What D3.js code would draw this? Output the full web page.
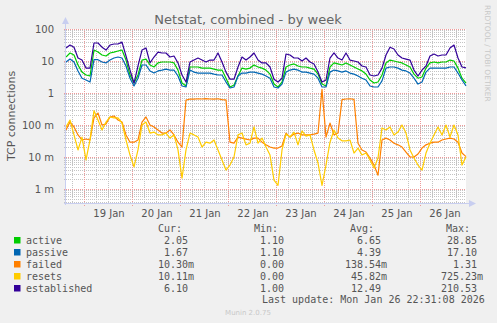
<!DOCTYPE html>
<html>
<head>
<meta charset="utf-8">
<script src="https://cdn.jsdelivr.net/npm/d3@7/dist/d3.min.js"></script>
<style>
  html, body { margin: 0; padding: 0; background: #F0F0F0; }
  svg { display: block; }
  text { font-family: "DejaVu Sans", sans-serif; }
  .mono { font-family: "DejaVu Sans Mono", monospace; white-space: pre; }
</style>
</head>
<body>
<svg id="chart" width="497" height="323"></svg>
<script>
// Netstat weekly graph: one sample every two hours.
const seriesNames  = ["active", "passive", "failed", "resets", "established"];
const seriesColors = ["#00CC00", "#0066B3", "#FF8000", "#FFCC00", "#330099"];

const active = [13.3, 17.8, 15.4, 7.5, 4.5, 3.65, 3.4, 22, 19, 15.4,
  14.3, 17.8, 19, 20.5, 22, 10.7, 3.65, 2.05, 3.65, 10.7,
  11.5, 7.5, 6.5, 8.7, 9.3, 9.3, 9.3, 8.7, 5.2, 2.05,
  1.66, 6.5, 6.5, 6.5, 6.0, 6.0, 6.0, 5.6, 5.2, 5.2,
  2.9, 1.54, 1.78, 3.4, 6.0, 5.6, 6.0, 7.5, 6.5, 6.0,
  5.2, 3.9, 1.9, 1.54, 2.2, 6.5, 7.5, 8.1, 7.0, 6.5,
  6.5, 6.0, 5.6, 3.9, 1.9, 1.66, 6.5, 8.7, 8.1, 7.5,
  8.7, 7.5, 6.5, 5.6, 4.9, 3.9, 2.55, 2.05, 2.2, 3.65,
  8.7, 10.7, 10, 9.3, 8.7, 7.5, 6.5, 3.9, 2.9, 3.16,
  6.0, 8.7, 9.3, 8.7, 9.3, 9.3, 10.7, 10, 6.0, 2.9,
  2.05];

const passive = [9.3, 11.5, 9.3, 4.9, 2.9, 2.55, 2.2, 11, 11, 9.3,
  8.7, 10.7, 12.4, 13.3, 12.4, 7.0, 2.9, 1.66, 2.9, 7.5,
  7.5, 4.9, 4.2, 4.9, 5.2, 5.6, 5.2, 5.2, 3.4, 1.66,
  1.54, 5.2, 4.5, 4.2, 4.2, 4.2, 4.2, 3.9, 3.65, 3.65,
  2.2, 1.43, 1.54, 3.4, 4.2, 4.2, 4.5, 4.5, 4.2, 3.9,
  3.4, 2.9, 1.54, 1.43, 1.9, 4.5, 5.2, 5.6, 5.2, 4.5,
  4.5, 4.2, 3.9, 2.9, 1.54, 1.54, 4.5, 5.2, 4.9, 4.5,
  4.9, 4.2, 3.9, 3.4, 2.9, 2.55, 1.66, 1.54, 1.54, 2.4,
  6.0, 6.5, 6.5, 6.0, 5.2, 4.9, 4.2, 2.9, 1.9, 2.2,
  4.5, 6.0, 6.0, 6.0, 6.0, 6.0, 6.5, 6.5, 4.2, 2.55,
  1.67];

const failed = [0.070, 0.124, 0.087, 0.049, 0.034, 0.0365, 0.034, 0.166, 0.237, 0.100,
  0.107, 0.178, 0.191, 0.143, 0.124, 0.049, 0.029, 0.029, 0.034, 0.124,
  0.178, 0.100, 0.087, 0.070, 0.056, 0.056, 0.070, 0.049, 0.029, 0.0205,
  0.60, 0.65, 0.64, 0.66, 0.65, 0.67, 0.65, 0.64, 0.66, 0.62,
  0.61, 0.029, 0.027, 0.042, 0.039, 0.036, 0.034, 0.039, 0.039, 0.029,
  0.024, 0.0205, 0.019, 0.019, 0.022, 0.056, 0.042, 0.052, 0.056, 0.049,
  0.049, 0.049, 0.052, 0.056, 1.31, 0.042, 0.115, 0.049, 0.056, 0.62,
  0.65, 0.66, 0.63, 0.027, 0.0166, 0.0143, 0.0093, 0.0056, 0.0027, 0.034,
  0.039, 0.034, 0.027, 0.024, 0.0205, 0.0143, 0.010, 0.010, 0.0124, 0.019,
  0.024, 0.027, 0.029, 0.029, 0.034, 0.0365, 0.039, 0.0365, 0.029, 0.0133,
  0.0103];

const resets = [0.087, 0.143, 0.049, 0.0166, 0.042, 0.0081, 0.034, 0.28, 0.143, 0.070,
  0.124, 0.178, 0.166, 0.166, 0.115, 0.034, 0.0115, 0.0049, 0.0166, 0.100,
  0.124, 0.056, 0.060, 0.049, 0.049, 0.056, 0.039, 0.049, 0.0166, 0.0022,
  0.0166, 0.056, 0.049, 0.042, 0.0205, 0.029, 0.027, 0.034, 0.0166, 0.0081,
  0.0039, 0.0056, 0.010, 0.049, 0.056, 0.024, 0.027, 0.087, 0.027, 0.039,
  0.0205, 0.0115, 0.0019, 0.0013, 0.0166, 0.052, 0.042, 0.060, 0.024, 0.065,
  0.045, 0.049, 0.0166, 0.0065, 0.0013, 0.0056, 0.029, 0.070, 0.039, 0.032,
  0.032, 0.034, 0.0133, 0.019, 0.0115, 0.0133, 0.0081, 0.0045, 0.0093, 0.081,
  0.070, 0.087, 0.049, 0.060, 0.100, 0.056, 0.0166, 0.0093, 0.0056, 0.0039,
  0.0133, 0.027, 0.049, 0.087, 0.049, 0.100, 0.042, 0.100, 0.049, 0.0056,
  0.0101];

const established = [25.5, 31.6, 27, 12.4, 10.7, 6.0, 6.0, 36.5, 36.5, 27,
  22, 31.6, 34, 34, 39, 14.3, 5.2, 2.05, 7.0, 22,
  25.5, 8.7, 13.3, 19, 17.8, 17.8, 13.3, 14.3, 8.7, 3.65,
  2.2, 9.3, 10.7, 12.4, 10.7, 9.3, 10.7, 10.7, 17.8, 9.3,
  4.5, 2.7, 2.7, 6.5, 13.3, 10.7, 13.3, 17.8, 10.7, 8.7,
  8.7, 6.5, 2.7, 2.2, 2.9, 16.5, 15.4, 12.4, 12.4, 10,
  12.4, 9.3, 8.1, 4.5, 2.2, 2.55, 12.4, 17.8, 12.4, 10.7,
  17.8, 10.7, 10, 9.3, 7, 6.5, 3.65, 3.4, 3.65, 6,
  15.4, 27, 23.7, 15.4, 12.4, 11.5, 10.7, 5.2, 3.4, 5.2,
  7, 14.3, 16.5, 14.3, 15.4, 15.4, 25.5, 31.6, 12.4, 6.5,
  6.1];

const yTickValues = [100, 10, 1, 0.1, 0.01, 0.001];
const yTickLabels = ["100", "10", "1", "100 m", "10 m", "1 m"];
const dayLabels = ["19 Jan", "20 Jan", "21 Jan", "22 Jan", "23 Jan", "24 Jan", "25 Jan", "26 Jan"];

const legendCur = ["2.05", "1.67", "10.30m", "10.11m", "6.10"];
const legendMin = ["1.10", "1.10", "0.00", "0.00", "1.00"];
const legendAvg = ["6.65", "4.39", "138.54m", "45.82m", "12.49"];
const legendMax = ["28.85", "17.10", "1.31", "725.23m", "210.53"];

const titleText = "Netstat, combined - by week";
const yAxisTitle = "TCP connections";
const lastUpdate = "Last update: Mon Jan 26 22:31:08 2026";
const footerText = "Munin 2.0.75";
const sideText = "RRDTOOL / TOBI OETIKER";

// ---- layout ----
const plot = { left: 66, right: 466, top: 29, bottom: 203 };
const HOUR = 3600 * 1000;
const t0 = new Date(2026, 0, 18, 15, 0, 0).getTime();
const step = 2 * HOUR;
const nPts = active.length;
const times = d3.range(nPts).map(i => new Date(t0 + i * step));
const tEnd = new Date(t0 + (nPts - 1) * step);

const x = d3.scaleTime().domain([new Date(t0), tEnd]).range([plot.left, plot.right]);
const y = d3.scaleLog().domain([Math.pow(10, 2 - (plot.bottom - plot.top) / 32), 100])
  .range([plot.bottom, plot.top]);

const svg = d3.select("#chart");
svg.append("rect").attr("width", 497).attr("height", 323).attr("fill", "#F0F0F0");
svg.append("rect")
  .attr("x", plot.left).attr("y", plot.top)
  .attr("width", plot.right - plot.left).attr("height", plot.bottom - plot.top)
  .attr("fill", "#FFFFFF");

// ---- grid ----
const grid = svg.append("g").attr("shape-rendering", "crispEdges");
const dom = y.domain();
const minorY = [];
for (let e = -4; e <= 1; e++) {
  for (let k = 2; k <= 9; k++) {
    const v = k * Math.pow(10, e);
    if (v >= dom[0] && v <= dom[1]) minorY.push(v);
  }
}
const minorColor = "#C4C4C4";
const majorColor = "#EE9A9A";
grid.selectAll("line.hminor").data(minorY).join("line")
  .attr("x1", plot.left - 2).attr("x2", plot.right)
  .attr("y1", d => Math.round(y(d)) + 0.5).attr("y2", d => Math.round(y(d)) + 0.5)
  .attr("stroke", minorColor).attr("stroke-dasharray", "1,1");

const sixHours = d3.timeHour.every(6).range(new Date(t0), tEnd)
  .filter(d => d.getHours() !== 0);
grid.selectAll("line.vminor").data(sixHours).join("line")
  .attr("x1", d => Math.round(x(d)) + 0.5).attr("x2", d => Math.round(x(d)) + 0.5)
  .attr("y1", plot.top).attr("y2", plot.bottom + 2)
  .attr("stroke", minorColor).attr("stroke-dasharray", "1,1");

grid.selectAll("line.hmajor").data(yTickValues).join("line")
  .attr("x1", plot.left - 2).attr("x2", plot.right)
  .attr("y1", d => Math.round(y(d)) + 0.5).attr("y2", d => Math.round(y(d)) + 0.5)
  .attr("stroke", majorColor).attr("stroke-dasharray", "1,1");

const days = d3.timeDay.range(new Date(t0), tEnd);
grid.selectAll("line.vmajor").data(days).join("line")
  .attr("x1", d => Math.round(x(d)) + 0.5).attr("x2", d => Math.round(x(d)) + 0.5)
  .attr("y1", plot.top).attr("y2", plot.bottom + 3)
  .attr("stroke", majorColor).attr("stroke-dasharray", "1,1");

// ---- series ----
svg.append("clipPath").attr("id", "clip").append("rect")
  .attr("x", plot.left).attr("y", plot.top)
  .attr("width", plot.right - plot.left + 1).attr("height", plot.bottom - plot.top);

const allSeries = [active, passive, failed, resets, established];
const line = d3.line()
  .x((d, i) => x(times[i]))
  .y(d => y(Math.max(d, dom[0])));

const lines = svg.append("g").attr("clip-path", "url(#clip)");
allSeries.forEach((s, k) => {
  lines.append("path").datum(s)
    .attr("d", line)
    .attr("fill", "none")
    .attr("stroke", seriesColors[k])
    .attr("stroke-width", 1.2)
    .attr("stroke-linejoin", "round");
});

// ---- axes ----
const axisColor = "#C8CEF0";
svg.append("line").attr("x1", plot.left - 0.5).attr("x2", plot.left - 0.5)
  .attr("y1", plot.bottom + 2).attr("y2", plot.top - 6)
  .attr("stroke", axisColor);
svg.append("line").attr("x1", plot.left - 2).attr("x2", plot.right + 4)
  .attr("y1", plot.bottom + 0.5).attr("y2", plot.bottom + 0.5)
  .attr("stroke", axisColor);
svg.append("path")
  .attr("d", `M${plot.left - 4},${plot.top - 5} L${plot.left - 0.5},${plot.top - 12} L${plot.left + 3},${plot.top - 5} Z`)
  .attr("fill", axisColor);
svg.append("path")
  .attr("d", `M${plot.right + 3},${plot.bottom - 3} L${plot.right + 10},${plot.bottom + 0.5} L${plot.right + 3},${plot.bottom + 4} Z`)
  .attr("fill", axisColor);

const textColor = "#555555";
svg.selectAll("text.ytick").data(yTickValues).join("text")
  .attr("x", plot.left - 12).attr("y", d => y(d) + 3.5)
  .attr("text-anchor", "end").attr("font-size", 10).attr("fill", textColor)
  .text((d, i) => yTickLabels[i]);

const noons = days.map(d => new Date(d.getTime() + 12 * HOUR));
svg.selectAll("text.xtick").data(noons).join("text")
  .attr("x", d => x(d) + 1).attr("y", 217)
  .attr("text-anchor", "middle").attr("font-size", 10).attr("fill", textColor)
  .text((d, i) => dayLabels[i]);

// ---- titles ----
svg.append("text").attr("x", 248).attr("y", 24)
  .attr("text-anchor", "middle").attr("font-size", 13).attr("fill", "#666666")
  .text(titleText);
svg.append("text")
  .attr("transform", `translate(15,${(plot.top + plot.bottom) / 2}) rotate(-90)`)
  .attr("text-anchor", "middle").attr("font-size", 11).attr("fill", textColor)
  .text(yAxisTitle);
svg.append("text")
  .attr("transform", "translate(485,5) rotate(90)")
  .attr("text-anchor", "start").attr("font-size", 7.5).attr("fill", "#C8C8C8")
  .text(sideText);

// ---- legend ----
const leg = svg.append("g").attr("font-size", 10).attr("fill", textColor);
const rowY = i => 243.5 + 12 * i;
leg.append("text").attr("class", "mono").attr("x", 158).attr("y", 231.5).text("Cur:");
leg.append("text").attr("class", "mono").attr("x", 254).attr("y", 231.5).text("Min:");
leg.append("text").attr("class", "mono").attr("x", 350).attr("y", 231.5).text("Avg:");
leg.append("text").attr("class", "mono").attr("x", 446).attr("y", 231.5).text("Max:");

function valueCell(g, str, numEnd, yy) {
  const hasM = str.endsWith("m");
  const num = hasM ? str.slice(0, -1) : str;
  g.append("text").attr("class", "mono").attr("x", numEnd).attr("y", yy)
    .attr("text-anchor", "end").text(num);
  if (hasM) g.append("text").attr("class", "mono").attr("x", numEnd).attr("y", yy).text("m");
}

seriesNames.forEach((name, i) => {
  leg.append("rect").attr("x", 14).attr("y", rowY(i) - 6.5).attr("width", 6.5).attr("height", 6.5)
    .attr("fill", seriesColors[i]);
  leg.append("text").attr("class", "mono").attr("x", 26).attr("y", rowY(i)).text(name);
  valueCell(leg, legendCur[i], 188, rowY(i));
  valueCell(leg, legendMin[i], 284, rowY(i));
  valueCell(leg, legendAvg[i], 381, rowY(i));
  valueCell(leg, legendMax[i], 477, rowY(i));
});
leg.append("text").attr("class", "mono").attr("x", 262).attr("y", 302.5).text(lastUpdate);

svg.append("text").attr("x", 248).attr("y", 315)
  .attr("text-anchor", "middle").attr("font-size", 7).attr("fill", "#C8C8C8")
  .text(footerText);
</script>
</body>
</html>
